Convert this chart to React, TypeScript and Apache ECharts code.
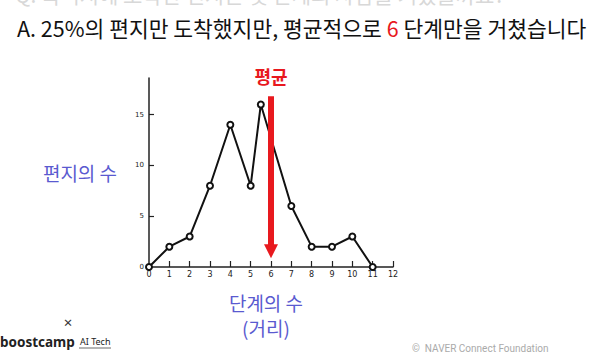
import React, { useEffect, useRef } from "react";
import * as echarts from "echarts";

const steps = [0, 1, 2, 3, 4, 5, 5.5, 7, 8, 9, 10, 11];
const letters = [0, 2, 3, 8, 14, 8, 16, 6, 2, 2, 3, 0];
const xTicks = [0, 1, 2, 3, 4, 5, 6, 7, 8, 9, 10, 11, 12];
const yTicks = [0, 5, 10, 15];
const meanSteps = 6;

const KR = "'Noto Sans CJK KR', 'Noto Sans', sans-serif";
const BLUE = "#5a5ad0";
const RED = "#e8191e";

export default function App() {
  const ref = useRef<HTMLDivElement>(null);
  useEffect(() => {
    if (!ref.current) return;
    const chart = echarts.init(ref.current, undefined, { renderer: "svg" });
    chart.setOption({
      animation: false,
      backgroundColor: "#ffffff",
      grid: { left: 149, right: 217, top: 78, bottom: 88, containLabel: false },
      xAxis: {
        type: "value",
        min: 0,
        max: 12,
        interval: 1,
        splitLine: { show: false },
        axisLine: { show: true, onZero: false, lineStyle: { color: "#222", width: 1.5 } },
        axisTick: { show: true, inside: true, length: 6, customValues: xTicks.slice(1), lineStyle: { color: "#222", width: 1.2 } },
        axisLabel: { fontSize: 8, color: "#222", margin: 3, fontFamily: "DejaVu Sans", customValues: xTicks },
      },
      yAxis: {
        type: "value",
        min: 0,
        max: 18.6,
        interval: 5,
        splitLine: { show: false },
        axisLine: { show: true, onZero: false, lineStyle: { color: "#222", width: 1.5 } },
        axisTick: { show: true, inside: true, length: 5, customValues: yTicks.slice(1), lineStyle: { color: "#222", width: 1.2 } },
        axisLabel: { fontSize: 7, color: "#222", margin: 5, fontFamily: "DejaVu Sans", customValues: yTicks },
      },
      series: [
        {
          type: "line",
          data: steps.map((s, i) => [s, letters[i]]),
          symbol: "emptyCircle",
          symbolSize: 6,
          lineStyle: { color: "#111", width: 2 },
          itemStyle: { color: "#111", borderWidth: 1.2, borderColor: "#111" },
          z: 3,
          markLine: {
            silent: true,
            symbol: ["none", "triangle"],
            symbolSize: [14, 14],
            lineStyle: { color: RED, width: 6, type: "solid" },
            label: { show: false },
            emphasis: { disabled: true },
            data: [[{ coord: [meanSteps, 16.8] }, { coord: [meanSteps, 1.55] }]],
            z: 5,
          },
        },
      ],
      graphic: [
        {
          type: "text",
          left: 15,
          top: -17,
          style: { text: "Q. 목적지에 도착한 편지는 몇 단계의 사람을 거쳤을까요?", fontSize: 21, fill: "#d8d8d8", fontFamily: KR },
        },
        {
          type: "text",
          x: 17,
          y: 27,
          style: {
            text: "{a|A. 25%의 편지만 도착했지만, 평균적으로 }{r|6}{a| 단계만을 거쳤습니다}",
            verticalAlign: "middle",
            rich: {
              a: { fontSize: 21.5, fill: "#111", fontFamily: KR },
              r: { fontSize: 21.5, fill: RED, fontFamily: KR },
            },
          },
        },
        {
          type: "text",
          x: 271,
          y: 76,
          style: { text: "평균", fontSize: 18, fontWeight: "bold", fill: RED, fontFamily: KR, align: "center", verticalAlign: "middle" },
        },
        {
          type: "text",
          x: 80,
          y: 172,
          style: { text: "편지의 수", fontSize: 19, fill: BLUE, fontFamily: KR, align: "center", verticalAlign: "middle" },
        },
        {
          type: "text",
          x: 266,
          y: 302,
          style: { text: "단계의 수", fontSize: 19, fill: BLUE, fontFamily: KR, align: "center", verticalAlign: "middle" },
        },
        {
          type: "text",
          x: 266,
          y: 327,
          style: { text: "(거리)", fontSize: 19, fill: BLUE, fontFamily: KR, align: "center", verticalAlign: "middle" },
        },
        {
          type: "text",
          x: 68,
          y: 322,
          style: { text: "×", fontSize: 15, fill: "#333", fontFamily: "Noto Sans", align: "center", verticalAlign: "middle" },
        },
        {
          type: "text",
          x: 0,
          y: 342,
          style: { text: "boostcamp", fontSize: 13.5, fontWeight: "bold", fill: "#222", fontFamily: "Noto Sans", verticalAlign: "middle" },
        },
        {
          type: "text",
          x: 80,
          y: 341,
          style: { text: "AI Tech", fontSize: 9, fill: "#222", fontFamily: "Noto Sans", verticalAlign: "middle" },
        },
        {
          type: "line",
          shape: { x1: 79, y1: 348, x2: 111, y2: 348 },
          style: { stroke: "#444", lineWidth: 0.8 },
        },
        {
          type: "text",
          x: 412,
          y: 348,
          style: { text: "©  NAVER Connect Foundation", fontSize: 10, fill: "#aaaaaa", fontFamily: "Roboto", verticalAlign: "middle" },
        },
      ],
    });
    return () => chart.dispose();
  }, []);
  return (
    <div
      ref={ref}
      style={{ position: "fixed", left: 0, top: 0, width: 610, height: 355, background: "#fff" }}
    />
  );
}
